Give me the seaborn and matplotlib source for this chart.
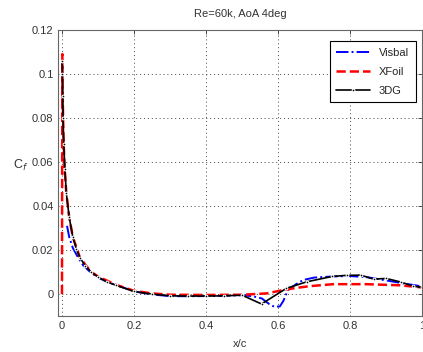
import numpy as np
import pandas as pd
import matplotlib
matplotlib.use("Agg")
import matplotlib.pyplot as plt
import seaborn as sns

# skin friction along chord
x_3dg = [0.0005, 0.001, 0.002, 0.003, 0.005, 0.008, 0.012, 0.02, 0.03, 0.04,
         0.05, 0.065, 0.08, 0.1, 0.125, 0.15, 0.2, 0.25, 0.3, 0.35, 0.4, 0.45,
         0.5, 0.554, 0.623, 0.68, 0.75, 0.79, 0.83, 0.865, 0.9, 0.94, 0.975, 1.0]
cf_3dg = [0.106, 0.1, 0.09, 0.08, 0.068, 0.057, 0.046, 0.035, 0.026, 0.0205,
          0.0165, 0.0128, 0.0102, 0.0078, 0.0055, 0.0040, 0.0012, 0.0000, -0.0008,
          -0.0009, -0.0009, -0.0008, -0.0005, -0.0045, 0.0026, 0.0056, 0.0080,
          0.0085, 0.0086, 0.0068, 0.0071, 0.0055, 0.0036, 0.0030]

x_visbal = [0.014, 0.02, 0.03, 0.045, 0.06, 0.08, 0.1, 0.13, 0.16, 0.2, 0.25,
            0.3, 0.35, 0.4, 0.45, 0.5, 0.53, 0.555, 0.575, 0.59, 0.605, 0.615,
            0.627, 0.65, 0.67, 0.7, 0.75, 0.8, 0.85, 0.9, 0.95, 0.98, 1.0]
cf_visbal = [0.031, 0.026, 0.021, 0.0165, 0.0128, 0.0098, 0.0075, 0.0052, 0.0036,
             0.0012, -0.0002, -0.0009, -0.0010, -0.0009, -0.0008, -0.0005, -0.0010,
             -0.0020, -0.0045, -0.0058, -0.0056, -0.0030, 0.0018, 0.0045, 0.0064,
             0.0075, 0.0080, 0.0082, 0.0076, 0.0062, 0.0048, 0.0040, 0.0035]

x_xfoil = [0.0, 0.001, 0.002, 0.004, 0.007, 0.012, 0.02, 0.03, 0.05, 0.08, 0.1,
           0.15, 0.2, 0.25, 0.3, 0.4, 0.5, 0.568, 0.613, 0.65, 0.688, 0.753,
           0.845, 0.937, 1.0]
cf_xfoil = [0.0, 0.109, 0.09, 0.072, 0.058, 0.046, 0.035, 0.026, 0.0165, 0.0102,
            0.0080, 0.0042, 0.0015, 0.0003, -0.0003, -0.0004, -0.0003, 0.0003,
            0.0018, 0.0028, 0.0036, 0.0045, 0.0045, 0.0040, 0.0030]

x_ticks = [0, 0.2, 0.4, 0.6, 0.8, 1.0]
x_tick_labels = ["0", "0.2", "0.4", "0.6", "0.8", "1"]
y_ticks = [0, 0.02, 0.04, 0.06, 0.08, 0.1, 0.12]
y_tick_labels = ["0", "0.02", "0.04", "0.06", "0.08", "0.1", "0.12"]

sns.set_style("white")
plt.rcParams["font.family"] = ["Liberation Sans", "DejaVu Sans"]
plt.rcParams["font.size"] = 8

fig = plt.figure(figsize=(4.23, 3.52), dpi=100)
ax = fig.add_axes([0.138, 0.102, 0.860, 0.813])

sns.lineplot(x=x_visbal, y=cf_visbal, ax=ax, color="#0000ff", linestyle="-.",
             linewidth=1.4, label="Visbal", sort=False)
sns.lineplot(x=x_xfoil, y=cf_xfoil, ax=ax, color="#ff0000", linestyle="--",
             linewidth=1.8, label="XFoil", sort=False)
sns.lineplot(x=x_3dg, y=cf_3dg, ax=ax, color="black", linestyle="-",
             linewidth=1.2, marker=".", markersize=4, label="3DG", sort=False)

ax.set_xlim(-0.01, 1.0)
ax.set_ylim(-0.01, 0.12)
ax.set_xticks(x_ticks)
ax.set_xticklabels(x_tick_labels)
ax.set_yticks(y_ticks)
ax.set_yticklabels(y_tick_labels)
ax.tick_params(direction="in", top=True, right=True, length=3, width=0.6,
               labelsize=8, colors="#333333")
ax.grid(True, linestyle=(0, (1, 3)), color="#444444", linewidth=0.7)
for s in ax.spines.values():
    s.set_color("#666666")
    s.set_linewidth(0.8)

ax.set_title("Re=60k, AoA 4deg", fontsize=8, color="#333333", pad=9)
ax.set_xlabel("x/c", fontsize=8, color="#333333", labelpad=6)
ax.set_ylabel("C$_f$", fontsize=9, color="#333333", rotation=0, labelpad=8)
ax.yaxis.set_label_coords(-0.105, 0.5)

leg = ax.legend(loc="upper right", bbox_to_anchor=(0.997, 0.98), fontsize=8,
                frameon=True, fancybox=False, framealpha=1, borderpad=0.6,
                handlelength=3.0, labelspacing=0.8)
leg.get_frame().set_edgecolor("black")
leg.get_frame().set_linewidth(0.8)

fig.savefig("out.png", dpi=100)
